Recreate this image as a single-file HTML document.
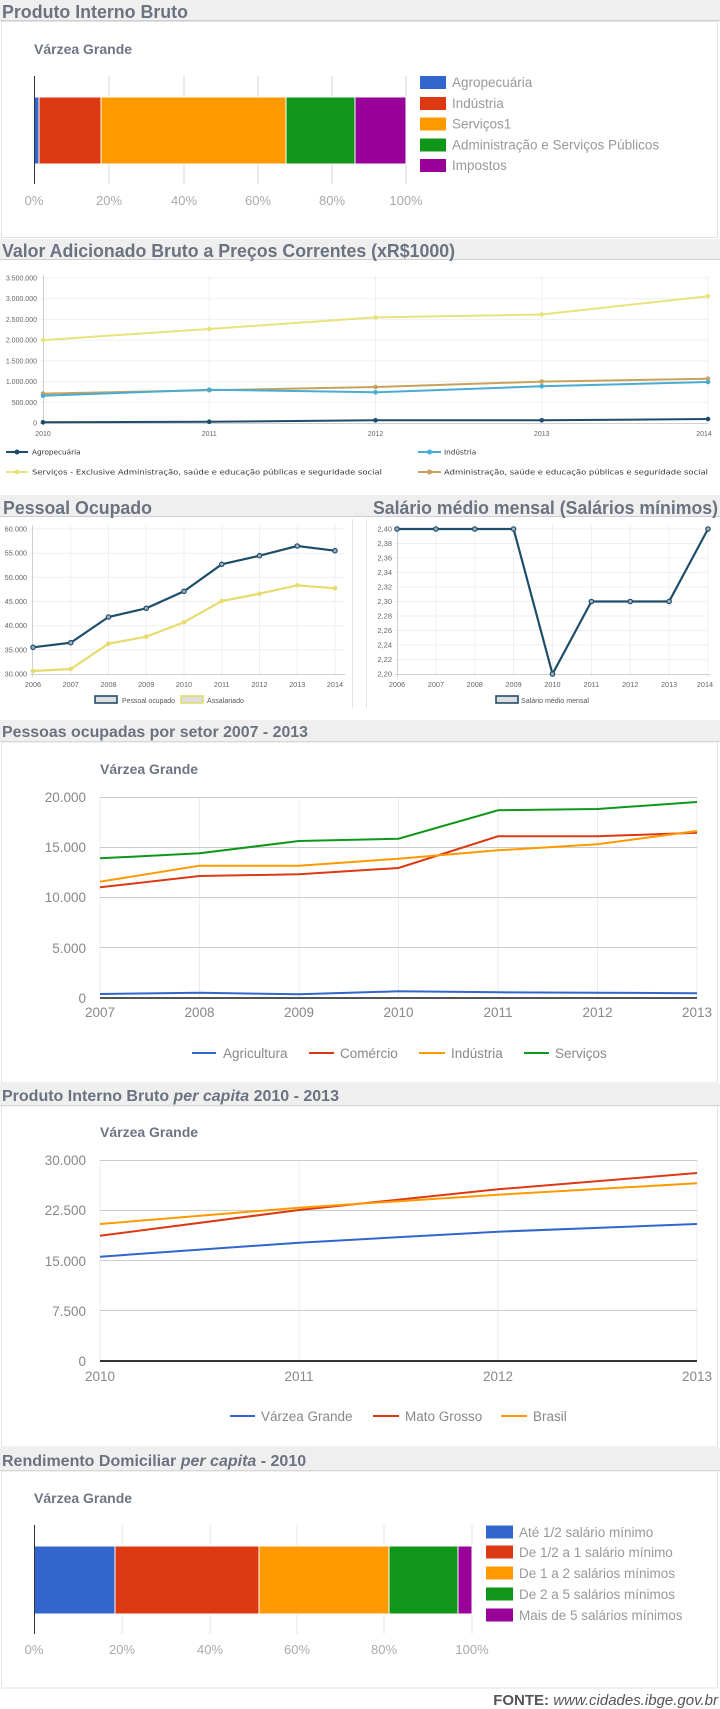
<!DOCTYPE html>
<html><head><meta charset="utf-8"><style>
html,body{margin:0;padding:0;background:#fff;}
svg{display:block;}
text{font-family:"Liberation Sans",Arial,sans-serif;}
.h{font-size:18px;font-weight:bold;fill:#6b7280;}
.h2{font-size:16px;font-weight:bold;fill:#6b7280;}
.vg{font-size:14px;font-weight:bold;fill:#6e7582;}
.sm{font-family:"DejaVu Sans",sans-serif;font-size:7.3px;fill:#333;}
.ax7{font-size:7px;fill:#666;}
.ax14{font-size:13.5px;fill:#888;}
.pct{font-size:13px;fill:#aaa;}
.lg{font-size:13.5px;fill:#999;}
</style></head><body>
<svg width="720" height="1709" viewBox="0 0 720 1709" xmlns="http://www.w3.org/2000/svg">
<rect width="720" height="1709" fill="#fff"/>

<!-- ===== Section 1 ===== -->
<rect x="0" y="0" width="720" height="20" fill="#efefef"/>
<line x1="0" y1="20.5" x2="720" y2="20.5" stroke="#cfcfcf"/>
<text class="h" x="2" y="18" textLength="186" lengthAdjust="spacingAndGlyphs">Produto Interno Bruto</text>
<rect x="1.5" y="21.5" width="716" height="216" fill="none" stroke="#e2e2e2"/>
<text class="vg" x="34" y="54">Várzea Grande</text>
<g stroke="#d6d6d6" stroke-width="1">
<line x1="109" y1="76" x2="109" y2="184"/><line x1="184" y1="76" x2="184" y2="184"/>
<line x1="258" y1="76" x2="258" y2="184"/><line x1="332" y1="76" x2="332" y2="184"/>
<line x1="406" y1="76" x2="406" y2="184"/>
</g>
<g stroke="#fff" stroke-width="1">
<rect x="34" y="97" width="5" height="67" fill="#3366cc"/>
<rect x="39" y="97" width="62" height="67" fill="#dc3912"/>
<rect x="101" y="97" width="185" height="67" fill="#ff9900"/>
<rect x="286" y="97" width="69" height="67" fill="#109618"/>
<rect x="355" y="97" width="51" height="67" fill="#990099"/>
</g>
<line x1="34.5" y1="76" x2="34.5" y2="184" stroke="#333"/>
<g class="pct" text-anchor="middle">
<text x="34" y="205">0%</text><text x="109" y="205">20%</text><text x="184" y="205">40%</text>
<text x="258" y="205">60%</text><text x="332" y="205">80%</text><text x="406" y="205">100%</text>
</g>
<rect x="420" y="76" width="26" height="13" fill="#3366cc"/>
<rect x="420" y="97" width="26" height="13" fill="#dc3912"/>
<rect x="420" y="117.5" width="26" height="13" fill="#ff9900"/>
<rect x="420" y="138.5" width="26" height="13" fill="#109618"/>
<rect x="420" y="159" width="26" height="13" fill="#990099"/>
<g class="lg">
<text x="452" y="87">Agropecuária</text>
<text x="452" y="108">Indústria</text>
<text x="452" y="128.5">Serviços1</text>
<text x="452" y="149.5">Administração e Serviços Públicos</text>
<text x="452" y="170">Impostos</text>
</g>

<!-- ===== Section 2 ===== -->
<rect x="0" y="239" width="720" height="20" fill="#efefef"/>
<line x1="0" y1="259.5" x2="720" y2="259.5" stroke="#cfcfcf"/>
<text class="h" x="2" y="257" textLength="453" lengthAdjust="spacingAndGlyphs">Valor Adicionado Bruto a Preços Correntes (xR$1000)</text>
<g stroke="#efefef" stroke-width="1">
<line x1="40" y1="278" x2="708" y2="278"/><line x1="40" y1="298.7" x2="708" y2="298.7"/>
<line x1="40" y1="319.4" x2="708" y2="319.4"/><line x1="40" y1="340.1" x2="708" y2="340.1"/>
<line x1="40" y1="360.9" x2="708" y2="360.9"/><line x1="40" y1="381.6" x2="708" y2="381.6"/>
<line x1="40" y1="402.3" x2="708" y2="402.3"/>
<line x1="209.25" y1="275" x2="209.25" y2="426"/><line x1="375.5" y1="275" x2="375.5" y2="426"/>
<line x1="541.75" y1="275" x2="541.75" y2="426"/><line x1="708" y1="275" x2="708" y2="426"/>
</g>
<line x1="43.5" y1="275" x2="43.5" y2="426" stroke="#d0d0d0"/>
<line x1="40" y1="423.5" x2="708" y2="423.5" stroke="#d0d0d0"/>
<g class="ax7" text-anchor="end">
<text x="37" y="280.5">3.500.000</text><text x="37" y="301.2">3.000.000</text>
<text x="37" y="321.9">2.500.000</text><text x="37" y="342.6">2.000.000</text>
<text x="37" y="363.4">1.500.000</text><text x="37" y="384.1">1.000.000</text>
<text x="37" y="404.8">500.000</text><text x="37" y="425.5">0</text>
</g>
<g class="ax7" text-anchor="middle">
<text x="43" y="436">2010</text><text x="209.25" y="436">2011</text><text x="375.5" y="436">2012</text>
<text x="541.75" y="436">2013</text><text x="704" y="436">2014</text>
</g>
<g fill="none" stroke-width="2">
<polyline stroke="#e8e37c" points="43,340.1 209.25,329 375.5,317.4 541.75,314.5 708,296.2"/>
<polyline stroke="#c8a25c" points="43,393.6 209.25,390.3 375.5,387 541.75,381.6 708,378.7"/>
<polyline stroke="#48add2" points="43,395.7 209.25,389.7 375.5,392.3 541.75,386.3 708,382"/>
<polyline stroke="#1e4d6b" points="43,422.3 209.25,421.7 375.5,420.3 541.75,420.3 708,419"/>
</g>
<g fill="#e8e37c"><circle cx="43" cy="340.1" r="2.3"/><circle cx="209.25" cy="329" r="2.3"/><circle cx="375.5" cy="317.4" r="2.3"/><circle cx="541.75" cy="314.5" r="2.3"/><circle cx="708" cy="296.2" r="2.3"/></g>
<g fill="#c8a25c"><circle cx="43" cy="393.6" r="2.3"/><circle cx="209.25" cy="390.3" r="2.3"/><circle cx="375.5" cy="387" r="2.3"/><circle cx="541.75" cy="381.6" r="2.3"/><circle cx="708" cy="378.7" r="2.3"/></g>
<g fill="#48add2"><circle cx="43" cy="395.7" r="2.3"/><circle cx="209.25" cy="389.7" r="2.3"/><circle cx="375.5" cy="392.3" r="2.3"/><circle cx="541.75" cy="386.3" r="2.3"/><circle cx="708" cy="382" r="2.3"/></g>
<g fill="#1e4d6b"><circle cx="43" cy="422.3" r="2.3"/><circle cx="209.25" cy="421.7" r="2.3"/><circle cx="375.5" cy="420.3" r="2.3"/><circle cx="541.75" cy="420.3" r="2.3"/><circle cx="708" cy="419" r="2.3"/></g>
<!-- legend -->
<line x1="6" y1="452" x2="28" y2="452" stroke="#1e4d6b" stroke-width="2"/><circle cx="17" cy="452" r="2.5" fill="#1e4d6b"/>
<text class="sm" x="32" y="454.5">Agropecuária</text>
<line x1="418" y1="452" x2="441" y2="452" stroke="#48add2" stroke-width="2"/><circle cx="429.5" cy="452" r="2.5" fill="#48add2"/>
<text class="sm" x="444" y="454.5">Indústria</text>
<line x1="6" y1="472" x2="28" y2="472" stroke="#e8e37c" stroke-width="2"/><circle cx="17" cy="472" r="2.5" fill="#e8e37c"/>
<text class="sm" x="32" y="474.5" textLength="350" lengthAdjust="spacingAndGlyphs">Serviços - Exclusive Administração, saúde e educação públicas e seguridade social</text>
<line x1="418" y1="472" x2="441" y2="472" stroke="#c8a25c" stroke-width="2"/><circle cx="429.5" cy="472" r="2.5" fill="#c8a25c"/>
<text class="sm" x="444" y="474.5" textLength="264" lengthAdjust="spacingAndGlyphs">Administração, saúde e educação públicas e seguridade social</text>

<!-- ===== Section 3 ===== -->
<rect x="0" y="495" width="720" height="21" fill="#efefef"/>
<line x1="0" y1="516.5" x2="720" y2="516.5" stroke="#cfcfcf"/>
<text class="h" x="3" y="514" textLength="149" lengthAdjust="spacingAndGlyphs">Pessoal Ocupado</text>
<text class="h" x="373" y="514" textLength="345" lengthAdjust="spacingAndGlyphs">Salário médio mensal (Salários mínimos)</text>
<line x1="352.5" y1="519" x2="352.5" y2="708" stroke="#e4e4e4"/>
<line x1="366.5" y1="519" x2="366.5" y2="708" stroke="#e4e4e4"/>
<!-- left chart -->
<g stroke="#efefef">
<line x1="30" y1="529" x2="345" y2="529"/><line x1="30" y1="553.2" x2="345" y2="553.2"/>
<line x1="30" y1="577.3" x2="345" y2="577.3"/><line x1="30" y1="601.5" x2="345" y2="601.5"/>
<line x1="30" y1="625.7" x2="345" y2="625.7"/><line x1="30" y1="649.8" x2="345" y2="649.8"/>
<line x1="70.75" y1="525" x2="70.75" y2="677"/><line x1="108.5" y1="525" x2="108.5" y2="677"/>
<line x1="146.25" y1="525" x2="146.25" y2="677"/><line x1="184" y1="525" x2="184" y2="677"/>
<line x1="221.75" y1="525" x2="221.75" y2="677"/><line x1="259.5" y1="525" x2="259.5" y2="677"/>
<line x1="297.25" y1="525" x2="297.25" y2="677"/><line x1="335" y1="525" x2="335" y2="677"/>
</g>
<line x1="32.5" y1="525" x2="32.5" y2="677" stroke="#d0d0d0"/>
<line x1="30" y1="674.5" x2="345" y2="674.5" stroke="#d0d0d0"/>
<g class="ax7" text-anchor="end" style="font-size:7.3px">
<text x="27" y="531.5">60.000</text><text x="27" y="555.7">55.000</text><text x="27" y="579.8">50.000</text>
<text x="27" y="604">45.000</text><text x="27" y="628.2">40.000</text><text x="27" y="652.3">35.000</text><text x="27" y="676.5">30.000</text>
</g>
<g class="ax7" text-anchor="middle" style="font-size:7.3px">
<text x="33" y="687">2006</text><text x="70.75" y="687">2007</text><text x="108.5" y="687">2008</text>
<text x="146.25" y="687">2009</text><text x="184" y="687">2010</text><text x="221.75" y="687">2011</text>
<text x="259.5" y="687">2012</text><text x="297.25" y="687">2013</text><text x="335" y="687">2014</text>
</g>
<polyline fill="none" stroke="#e6dc6e" stroke-width="2.2" points="33,671 70.75,669 108.5,643.7 146.25,636.7 184,622.3 221.75,601 259.5,593.7 297.25,585.3 335,588.3"/>
<polyline fill="none" stroke="#1f4e6b" stroke-width="2.2" points="33,647.3 70.75,642.7 108.5,617 146.25,608.3 184,591.3 221.75,564.3 259.5,555.7 297.25,546 335,550.7"/>
<g fill="#e6dc6e"><circle cx="33" cy="671" r="2.3"/><circle cx="70.75" cy="669" r="2.3"/><circle cx="108.5" cy="643.7" r="2.3"/><circle cx="146.25" cy="636.7" r="2.3"/><circle cx="184" cy="622.3" r="2.3"/><circle cx="221.75" cy="601" r="2.3"/><circle cx="259.5" cy="593.7" r="2.3"/><circle cx="297.25" cy="585.3" r="2.3"/><circle cx="335" cy="588.3" r="2.3"/></g>
<g fill="#9fb0bd" stroke="#1f4e6b" stroke-width="1.2"><circle cx="33" cy="647.3" r="2.2"/><circle cx="70.75" cy="642.7" r="2.2"/><circle cx="108.5" cy="617" r="2.2"/><circle cx="146.25" cy="608.3" r="2.2"/><circle cx="184" cy="591.3" r="2.2"/><circle cx="221.75" cy="564.3" r="2.2"/><circle cx="259.5" cy="555.7" r="2.2"/><circle cx="297.25" cy="546" r="2.2"/><circle cx="335" cy="550.7" r="2.2"/></g>
<rect x="95" y="696" width="22" height="7" fill="#dedede" stroke="#1f4e6b" stroke-width="1.6"/>
<text class="ax7" x="122" y="703" style="fill:#555" textLength="53" lengthAdjust="spacingAndGlyphs">Pessoal ocupado</text>
<rect x="181" y="696" width="22" height="7" fill="#dedede" stroke="#e6dc6e" stroke-width="1.6"/>
<text class="ax7" x="207" y="703" style="fill:#555" textLength="37" lengthAdjust="spacingAndGlyphs">Assalariado</text>
<!-- right chart -->
<g stroke="#efefef">
<line x1="395" y1="529" x2="708" y2="529"/><line x1="395" y1="543.5" x2="708" y2="543.5"/>
<line x1="395" y1="558" x2="708" y2="558"/><line x1="395" y1="572.5" x2="708" y2="572.5"/>
<line x1="395" y1="587" x2="708" y2="587"/><line x1="395" y1="601.5" x2="708" y2="601.5"/>
<line x1="395" y1="616" x2="708" y2="616"/><line x1="395" y1="630.5" x2="708" y2="630.5"/>
<line x1="395" y1="645" x2="708" y2="645"/><line x1="395" y1="659.5" x2="708" y2="659.5"/>
<line x1="435.9" y1="525" x2="435.9" y2="677"/><line x1="474.75" y1="525" x2="474.75" y2="677"/>
<line x1="513.6" y1="525" x2="513.6" y2="677"/><line x1="552.5" y1="525" x2="552.5" y2="677"/>
<line x1="591.4" y1="525" x2="591.4" y2="677"/><line x1="630.25" y1="525" x2="630.25" y2="677"/>
<line x1="669.1" y1="525" x2="669.1" y2="677"/><line x1="708" y1="525" x2="708" y2="677"/>
</g>
<line x1="397.5" y1="525" x2="397.5" y2="677" stroke="#d0d0d0"/>
<line x1="395" y1="674.5" x2="710" y2="674.5" stroke="#d0d0d0"/>
<g class="ax7" text-anchor="end" style="font-size:7.5px">
<text x="392" y="531.5">2,40</text><text x="392" y="546">2,38</text><text x="392" y="560.5">2,36</text>
<text x="392" y="575">2,34</text><text x="392" y="589.5">2,32</text><text x="392" y="604">2,30</text>
<text x="392" y="618.5">2,28</text><text x="392" y="633">2,26</text><text x="392" y="647.5">2,24</text>
<text x="392" y="662">2,22</text><text x="392" y="676.5">2,20</text>
</g>
<g class="ax7" text-anchor="middle" style="font-size:7.3px">
<text x="397" y="687">2006</text><text x="435.9" y="687">2007</text><text x="474.75" y="687">2008</text>
<text x="513.6" y="687">2009</text><text x="552.5" y="687">2010</text><text x="591.4" y="687">2011</text>
<text x="630.25" y="687">2012</text><text x="669.1" y="687">2013</text><text x="705" y="687">2014</text>
</g>
<polyline fill="none" stroke="#1f4e6b" stroke-width="2.2" points="397,529 435.9,529 474.75,529 513.6,529 552.5,674 591.4,601.5 630.25,601.5 669.1,601.5 708,529"/>
<g fill="#9fb0bd" stroke="#1f4e6b" stroke-width="1.2"><circle cx="397" cy="529" r="2.2"/><circle cx="435.9" cy="529" r="2.2"/><circle cx="474.75" cy="529" r="2.2"/><circle cx="513.6" cy="529" r="2.2"/><circle cx="552.5" cy="674" r="2.2"/><circle cx="591.4" cy="601.5" r="2.2"/><circle cx="630.25" cy="601.5" r="2.2"/><circle cx="669.1" cy="601.5" r="2.2"/><circle cx="708" cy="529" r="2.2"/></g>
<rect x="496" y="696" width="22" height="7" fill="#dedede" stroke="#1f4e6b" stroke-width="1.6"/>
<text class="ax7" x="521" y="703" style="fill:#555" textLength="68" lengthAdjust="spacingAndGlyphs">Salário médio mensal</text>

<!-- ===== Section 4 ===== -->
<rect x="0" y="720" width="720" height="21" fill="#efefef"/>
<line x1="0" y1="741.5" x2="720" y2="741.5" stroke="#cfcfcf"/>
<text class="h2" x="2" y="737" textLength="306" lengthAdjust="spacingAndGlyphs">Pessoas ocupadas por setor 2007 - 2013</text>
<rect x="1.5" y="742" width="716" height="341" fill="none" stroke="#e2e2e2"/>
<text class="vg" x="100" y="774">Várzea Grande</text>
<g stroke="#ececec">
<line x1="199.5" y1="797" x2="199.5" y2="998"/><line x1="299" y1="797" x2="299" y2="998"/>
<line x1="398.5" y1="797" x2="398.5" y2="998"/><line x1="498" y1="797" x2="498" y2="998"/>
<line x1="597.5" y1="797" x2="597.5" y2="998"/><line x1="100" y1="797" x2="100" y2="998"/><line x1="697" y1="797" x2="697" y2="998"/>
</g>
<g stroke="#cccccc">
<line x1="100" y1="797.5" x2="697" y2="797.5"/><line x1="100" y1="847.5" x2="697" y2="847.5"/>
<line x1="100" y1="897.5" x2="697" y2="897.5"/><line x1="100" y1="947.5" x2="697" y2="947.5"/>
</g>
<g class="ax14" text-anchor="end">
<text x="86" y="802">20.000</text><text x="86" y="852">15.000</text><text x="86" y="902">10.000</text>
<text x="86" y="953">5.000</text><text x="86" y="1003">0</text>
</g>
<g class="ax14" text-anchor="middle">
<text x="100" y="1017">2007</text><text x="199.5" y="1017">2008</text><text x="299" y="1017">2009</text>
<text x="398.5" y="1017">2010</text><text x="498" y="1017">2011</text><text x="597.5" y="1017">2012</text><text x="697" y="1017">2013</text>
</g>
<g fill="none" stroke-width="2">
<polyline stroke="#3366cc" points="100,994 199.5,992.7 299,994.3 398.5,991.3 498,992.3 597.5,992.7 697,993.3"/>
<polyline stroke="#dc3912" points="100,887.3 199.5,876 299,874.3 398.5,868 498,836.3 597.5,836.3 697,832.7"/>
<polyline stroke="#ff9900" points="100,881.7 199.5,865.7 299,865.7 398.5,858.7 498,850.3 597.5,844.3 697,831"/>
<polyline stroke="#109618" points="100,858.3 199.5,853.3 299,841 398.5,838.7 498,810.3 597.5,809 697,802"/>
</g>
<line x1="100" y1="998" x2="697" y2="998" stroke="#555" stroke-width="2"/>
<g stroke-width="2">
<line x1="192" y1="1053" x2="216" y2="1053" stroke="#3366cc"/>
<line x1="309" y1="1053" x2="334" y2="1053" stroke="#dc3912"/>
<line x1="419" y1="1053" x2="445" y2="1053" stroke="#ff9900"/>
<line x1="524" y1="1053" x2="549" y2="1053" stroke="#109618"/>
</g>
<g class="ax14">
<text x="223" y="1058">Agricultura</text><text x="340" y="1058">Comércio</text>
<text x="451" y="1058">Indústria</text><text x="555" y="1058">Serviços</text>
</g>

<!-- ===== Section 5 ===== -->
<rect x="0" y="1084" width="720" height="21" fill="#efefef"/>
<line x1="0" y1="1105.5" x2="720" y2="1105.5" stroke="#cfcfcf"/>
<text class="h2" x="2" y="1101">Produto Interno Bruto <tspan font-style="italic">per capita</tspan> 2010 - 2013</text>
<rect x="1.5" y="1106" width="716" height="341" fill="none" stroke="#e2e2e2"/>
<text class="vg" x="100" y="1137">Várzea Grande</text>
<g stroke="#ececec">
<line x1="100" y1="1160" x2="100" y2="1361"/><line x1="299" y1="1160" x2="299" y2="1361"/>
<line x1="498" y1="1160" x2="498" y2="1361"/><line x1="697" y1="1160" x2="697" y2="1361"/>
</g>
<g stroke="#cccccc">
<line x1="100" y1="1160.5" x2="697" y2="1160.5"/><line x1="100" y1="1210.5" x2="697" y2="1210.5"/>
<line x1="100" y1="1260.5" x2="697" y2="1260.5"/><line x1="100" y1="1310.5" x2="697" y2="1310.5"/>
</g>
<g class="ax14" text-anchor="end">
<text x="86" y="1165">30.000</text><text x="86" y="1215">22.500</text><text x="86" y="1266">15.000</text>
<text x="86" y="1316">7.500</text><text x="86" y="1366">0</text>
</g>
<g class="ax14" text-anchor="middle">
<text x="100" y="1381">2010</text><text x="299" y="1381">2011</text><text x="498" y="1381">2012</text><text x="697" y="1381">2013</text>
</g>
<g fill="none" stroke-width="2">
<polyline stroke="#3366cc" points="100,1256.7 299,1242.7 498,1231.7 697,1224"/>
<polyline stroke="#dc3912" points="100,1235.7 299,1210 498,1189.3 697,1173"/>
<polyline stroke="#ff9900" points="100,1224 299,1207.7 498,1194.7 697,1183.3"/>
</g>
<line x1="100" y1="1361" x2="697" y2="1361" stroke="#333" stroke-width="2"/>
<g stroke-width="2">
<line x1="230" y1="1416" x2="255" y2="1416" stroke="#3366cc"/>
<line x1="373" y1="1416" x2="399" y2="1416" stroke="#dc3912"/>
<line x1="501" y1="1416" x2="527" y2="1416" stroke="#ff9900"/>
</g>
<g class="ax14">
<text x="261" y="1421">Várzea Grande</text><text x="405" y="1421">Mato Grosso</text><text x="533" y="1421">Brasil</text>
</g>

<!-- ===== Section 6 ===== -->
<rect x="0" y="1448" width="720" height="22" fill="#efefef"/>
<line x1="0" y1="1470.5" x2="720" y2="1470.5" stroke="#cfcfcf"/>
<text class="h2" x="2" y="1466">Rendimento Domiciliar <tspan font-style="italic">per capita</tspan> - 2010</text>
<rect x="1.5" y="1471" width="716" height="217" fill="none" stroke="#e2e2e2"/>
<text class="vg" x="34" y="1503">Várzea Grande</text>
<g stroke="#e6e6e6">
<line x1="122" y1="1525" x2="122" y2="1634"/><line x1="210" y1="1525" x2="210" y2="1634"/>
<line x1="297" y1="1525" x2="297" y2="1634"/><line x1="384" y1="1525" x2="384" y2="1634"/>
<line x1="472" y1="1525" x2="472" y2="1634"/>
</g>
<g stroke="#fff" stroke-width="1">
<rect x="34" y="1546" width="81" height="68" fill="#3366cc"/>
<rect x="115" y="1546" width="144" height="68" fill="#dc3912"/>
<rect x="259" y="1546" width="130" height="68" fill="#ff9900"/>
<rect x="389" y="1546" width="69" height="68" fill="#109618"/>
<rect x="458" y="1546" width="14" height="68" fill="#990099"/>
</g>
<line x1="34.5" y1="1525" x2="34.5" y2="1634" stroke="#333"/>
<g class="pct" text-anchor="middle">
<text x="34" y="1654">0%</text><text x="122" y="1654">20%</text><text x="210" y="1654">40%</text>
<text x="297" y="1654">60%</text><text x="384" y="1654">80%</text><text x="472" y="1654">100%</text>
</g>
<rect x="486" y="1525.5" width="27" height="13" fill="#3366cc"/>
<rect x="486" y="1545.5" width="27" height="13" fill="#dc3912"/>
<rect x="486" y="1566.5" width="27" height="13" fill="#ff9900"/>
<rect x="486" y="1587.5" width="27" height="13" fill="#109618"/>
<rect x="486" y="1608.5" width="27" height="13" fill="#990099"/>
<g class="lg">
<text x="519" y="1537">Até 1/2 salário mínimo</text>
<text x="519" y="1557">De 1/2 a 1 salário mínimo</text>
<text x="519" y="1578">De 1 a 2 salários mínimos</text>
<text x="519" y="1599">De 2 a 5 salários mínimos</text>
<text x="519" y="1620">Mais de 5 salários mínimos</text>
</g>

<!-- FONTE -->
<text x="718" y="1705" text-anchor="end" style="font-size:15px;fill:#555"><tspan font-weight="bold">FONTE:</tspan> <tspan font-style="italic">www.cidades.ibge.gov.br</tspan></text>
</svg>
</body></html>
